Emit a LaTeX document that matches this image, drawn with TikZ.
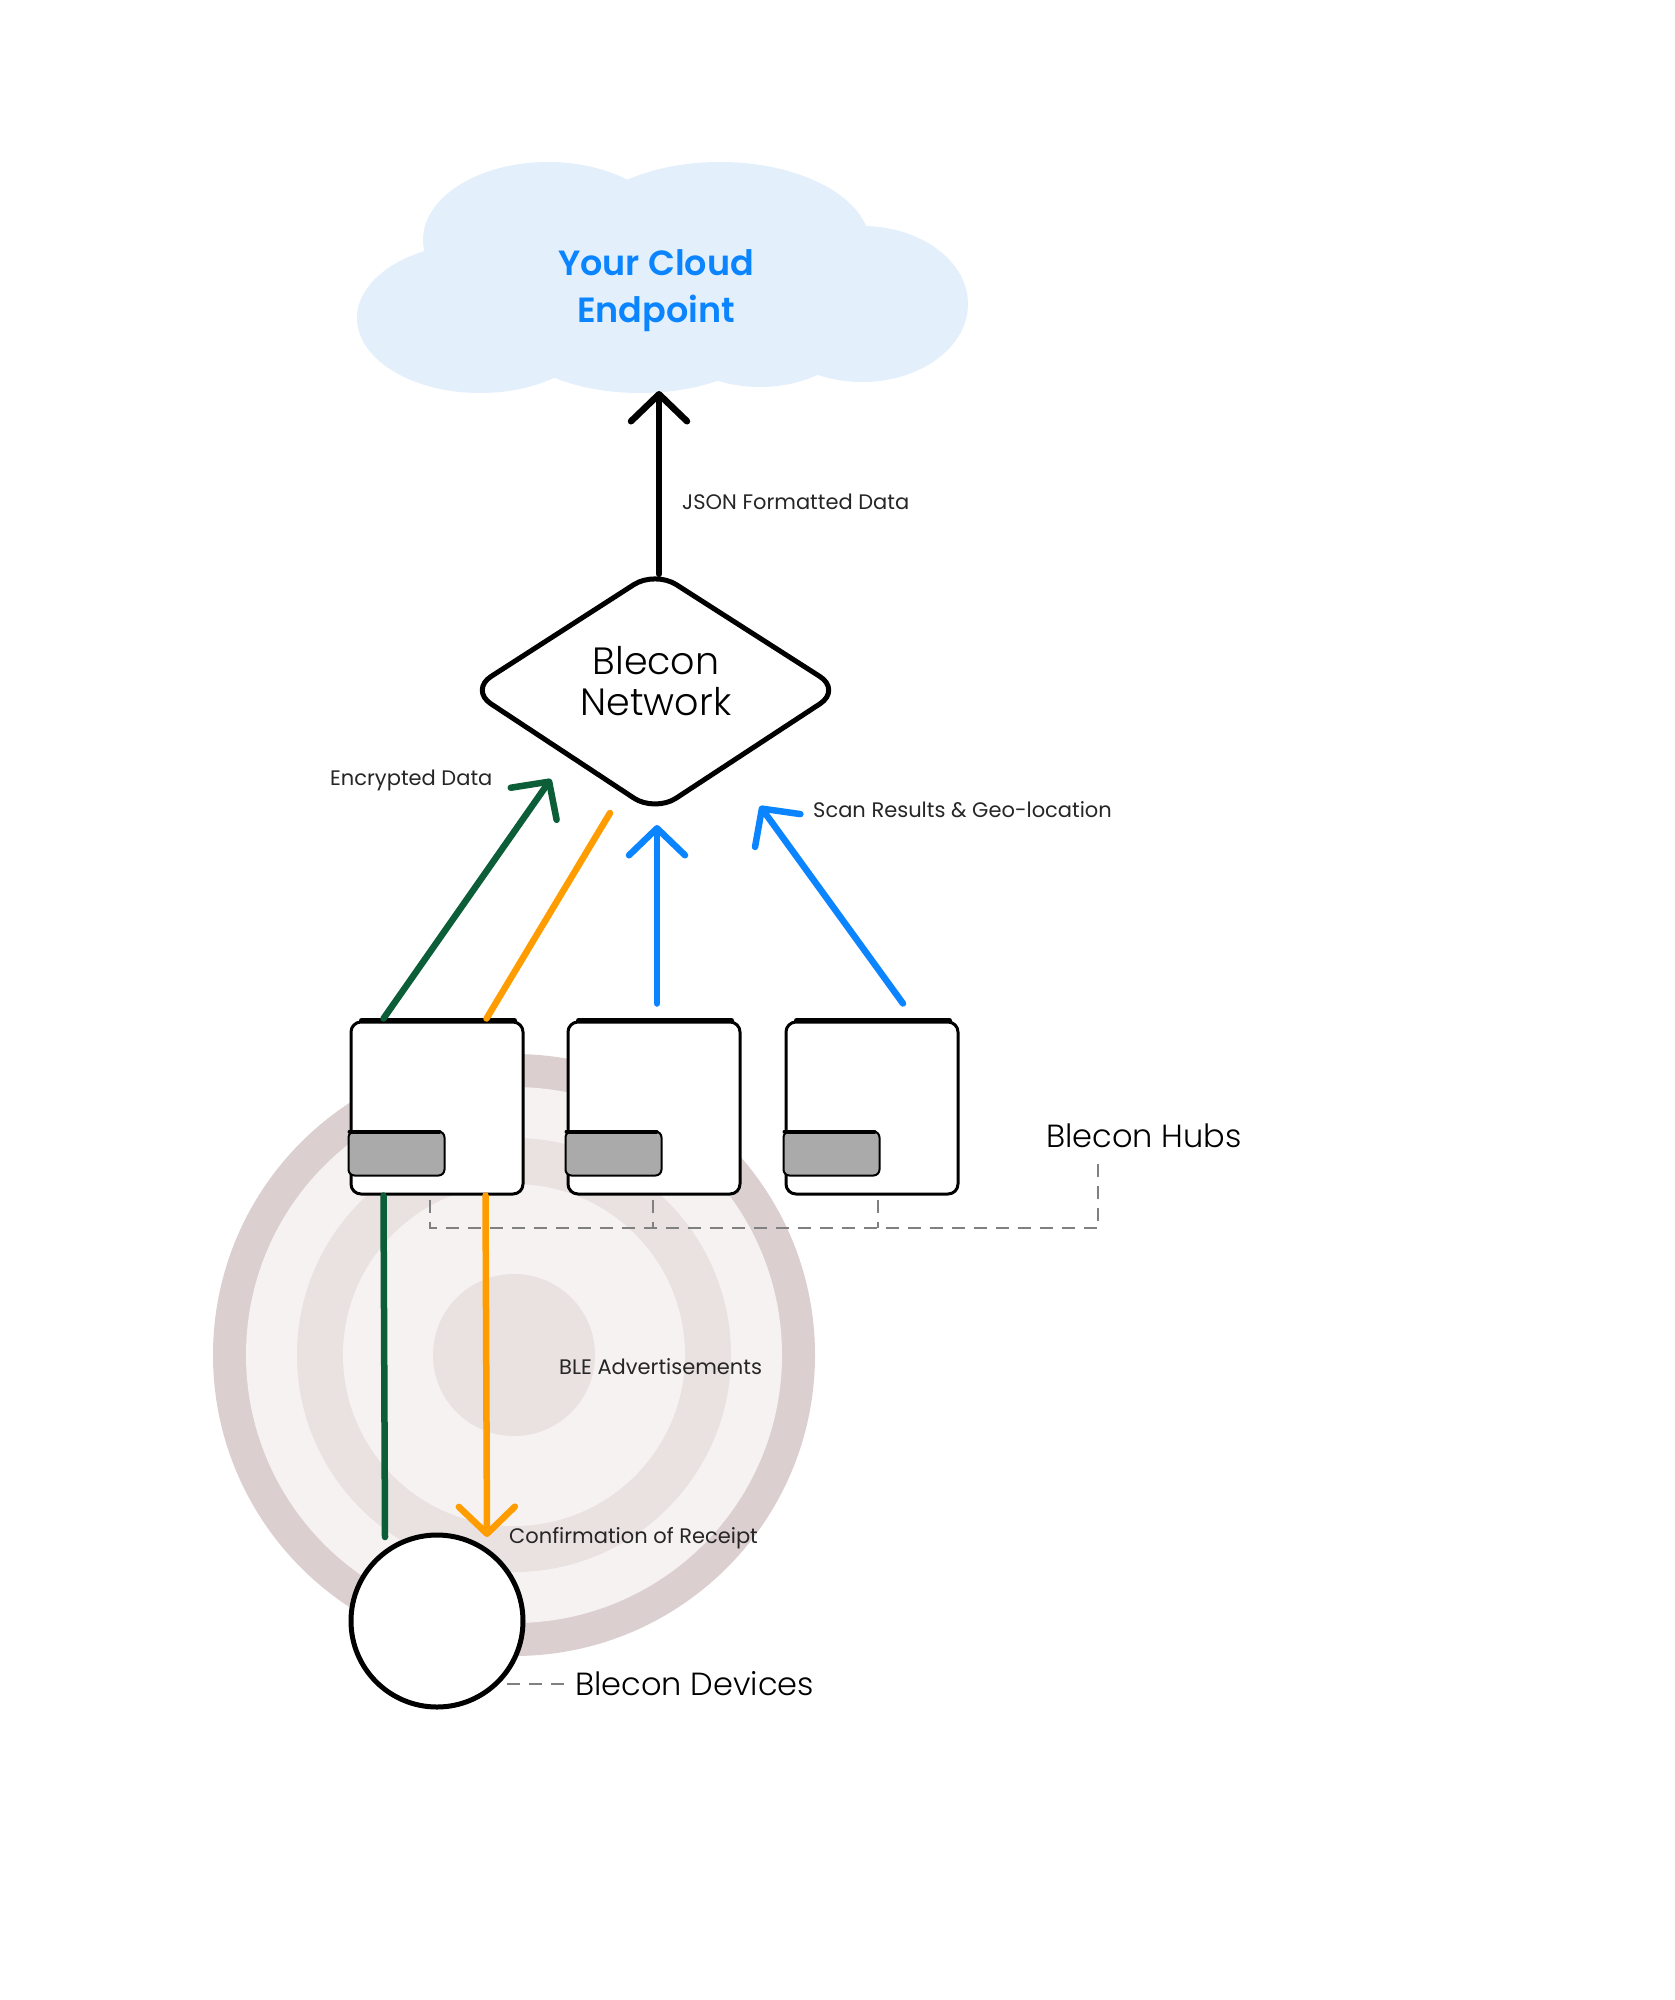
\documentclass[tikz,border=0pt]{standalone}
\usepackage{fontspec}
\setmainfont{Poppins}
\newfontfamily\cloudfont{Poppins}[UprightFont={* SemiBold}]
\newfontfamily\lightfont{Poppins}[UprightFont={* Light}]
\usetikzlibrary{arrows.meta,calc}
\definecolor{cloudfill}{HTML}{E3F0FC}
\definecolor{cloudtext}{HTML}{0A84FF}
\definecolor{dgreen}{HTML}{0B5E38}
\definecolor{orng}{HTML}{FF9D00}
\definecolor{blu}{HTML}{0A84FF}
\definecolor{ringA}{HTML}{DBCFD0}
\definecolor{ringB}{HTML}{F6F2F2}
\definecolor{ringC}{HTML}{EAE1E1}
\definecolor{hubgray}{HTML}{AAAAAA}
\definecolor{dashgray}{HTML}{808080}
\begin{document}
\begin{tikzpicture}[x=1pt,y=-1pt,
  flow/.style={line width=6.5pt,line cap=round,-{Straight Barb[length=27pt,width=56pt,round]}},
  flowplain/.style={line width=6.5pt,line cap=round},
  hubbox/.style={draw=black,fill=white,line width=3pt,rounded corners=10pt,minimum width=172pt,minimum height=172pt,inner sep=0pt},
  graybar/.style={fill=hubgray,draw=black,line width=2pt,rounded corners=6pt},
  lbl/.style={font=\fontsize{21}{25}\selectfont,text=black!85,inner sep=0pt},
  biglbl/.style={font=\fontsize{32}{38}\lightfont,text=black,inner sep=0pt},
  leader/.style={draw=dashgray,line width=2.5pt,dash pattern=on 13pt off 9pt},
]
\useasboundingbox[fill=white] (0,0) rectangle (1674,2000);

% cloud
\begin{scope}[cloudfill]
\fill (480,318) ellipse [x radius=123pt, y radius=75pt];
\fill (548,240) ellipse [x radius=125pt, y radius=78pt];
\fill (720,245) ellipse [x radius=150pt, y radius=83pt];
\fill (862,304) ellipse [x radius=106pt, y radius=78pt];
\fill (640,320) ellipse [x radius=140pt, y radius=73pt];
\fill (760,320) ellipse [x radius=100pt, y radius=67pt];
\fill (660,290) ellipse [x radius=230pt, y radius=80pt];
\end{scope}
\node[font=\fontsize{35}{47}\cloudfont,text=cloudtext,align=center] (cloud) at (656,291) {Your Cloud\\Endpoint};
\coordinate (cloudin) at (659,391);

% network diamond
\draw[line width=5pt,rounded corners=25pt,fill=white,line join=round] (655,571) -- (841,690) -- (655,812) -- (470,690) -- cycle;
\node[font=\fontsize{38}{41}\lightfont,align=center,inner sep=0pt] (net) at (656,681) {Blecon\\Network};
\coordinate (nettop) at (659,574);
\draw[flow,black] (nettop) -- (cloudin);
\node[lbl,anchor=west] (json) at (682,502) {JSON Formatted Data};

% rings
\fill[ringA] (514,1355) circle[radius=301pt];
\fill[ringB] (514,1355) circle[radius=268pt];
\fill[ringC] (514,1355) circle[radius=217pt];
\fill[ringB] (514,1355) circle[radius=171pt];
\fill[ringC] (514,1355) circle[radius=81pt];

% hubs
\node[hubbox] (h1) at (437,1108) {};
\node[hubbox] (h2) at (654,1108) {};
\node[hubbox] (h3) at (872,1108) {};
\foreach \h in {h1,h2,h3}{
  \draw[line width=5pt,line cap=round] ($(\h.north west)+(12,0)$) -- ($(\h.north east)+(-10,0)$);
  \draw[graybar] ($(\h.south west)+(-1,-20)$) rectangle ($(\h.south west)+(95,-64)$);
  \draw[line width=4pt,line cap=round] ($(\h.south west)+(0,-64)$) -- ($(\h.south west)+(90,-64)$);
}

% dashed bracket for hubs
\node[biglbl,anchor=west] (hubs) at (1046,1136) {Blecon Hubs};
\coordinate (hubsdrop) at (1098,1163);
\draw[leader] ($(h1.south)+(-7,4)$) -- (430,1228) -- (1098,1228) -- (hubsdrop);
\draw[leader] ($(h2.south)+(-1,4)$) -- (653,1228);
\draw[leader] ($(h3.south)+(6,4)$) -- (878,1228);

% upward connectors
\coordinate (gtip) at (551,779);
\coordinate (otop) at (610,813);
\coordinate (btip1) at (657,825);
\coordinate (btip2) at (760,806);
\draw[flow,dgreen] ($(h1.north west)+(34,-2)$) -- (gtip);
\draw[flowplain,orng] ($(h1.north west)+(137,-2)$) -- (otop);
\draw[flow,blu] ($(h2.north)+(3,-17)$) -- (btip1);
\draw[flow,blu] ($(h3.north)+(31,-17)$) -- (btip2);
\node[lbl,anchor=west] (enc) at (330,780) {Encrypted Data};
\node[lbl,anchor=west] (scan) at (813,810) {Scan Results \& Geo-location};

% device
\coordinate (gend) at (385,1537);
\coordinate (otip) at (487,1537);
\draw[flowplain,dgreen] ($(h1.south west)+(34,0)$) -- (gend);
\draw[flow,orng] ($(h1.south west)+(136,0)$) -- (otip);
\node[circle,draw,line width=5pt,fill=white,minimum size=172pt,inner sep=0pt] (dev) at (437,1621) {};
\node[lbl,anchor=west] (ble) at (559,1367) {BLE Advertisements};
\node[lbl,anchor=west] (conf) at (509,1538) {Confirmation of Receipt};
\node[biglbl,anchor=west] (devlbl) at (575,1684) {Blecon Devices};
\draw[leader] ($(devlbl.west)+(-11,0)$) -- ($(devlbl.west)+(-75,0)$);
\end{tikzpicture}
\end{document}
